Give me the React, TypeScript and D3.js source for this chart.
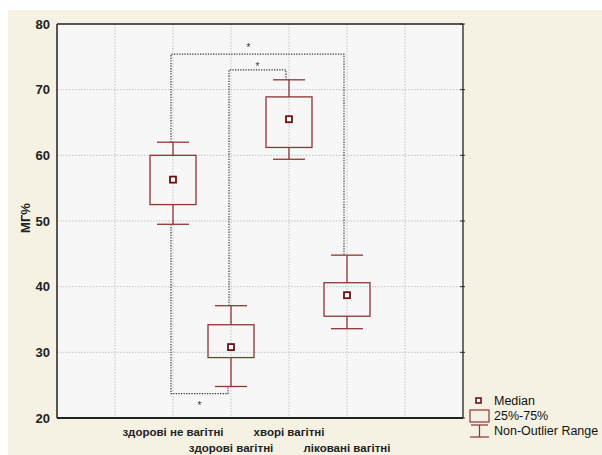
import React from 'react'
import * as d3 from 'd3'

const width = 602
const height = 455

const categories = ['здорові не вагітні', 'здорові вагітні', 'хворі вагітні', 'ліковані вагітні']
const medians = [56.3, 30.8, 65.5, 38.7]
const q1 = [52.5, 29.2, 61.2, 35.5]
const q3 = [60, 34.2, 68.9, 40.6]
const whiskerLow = [49.5, 24.8, 59.4, 33.6]
const whiskerHigh = [62, 37.1, 71.5, 44.8]
const yTicks = [20, 30, 40, 50, 60, 70, 80]

// significance brackets: which two groups, level of the bracket, top/bottom
const brackets = [
  { from: 0, to: 3, level: 75.4, side: 'top' },
  { from: 1, to: 2, level: 73, side: 'top' },
  { from: 0, to: 1, level: 23.7, side: 'bottom' },
]

const legendItems = ['Median', '25%-75%', 'Non-Outlier Range']

const plot = { left: 57, right: 463, top: 24, bottom: 418 }
const boxColor = '#8e3535'
const font = 'Liberation Sans, Arial, sans-serif'

const App = () => {
  const x = d3.scaleLinear().domain([0, 7]).range([plot.left, plot.right])
  const y = d3.scaleLinear().domain([20, 80]).range([plot.bottom, plot.top])
  const cx = (i: number) => x(i + 2)

  const boxW = 46
  const capW = 32

  return (
    <svg width={width} height={height} style={{ position: 'absolute', left: 0, top: 0 }}>
      <rect x={0} y={0} width={width} height={height} fill="#ffffff" />
      <rect x={8} y={10} width={width - 8} height={height - 10} fill="#f5f1e3" />
      <rect x={plot.left} y={plot.top} width={plot.right - plot.left} height={plot.bottom - plot.top} fill="#f7f7f7" />

      {/* grid */}
      {d3.range(1, 7).map(k =>
        <line key={'gx' + k} x1={x(k)} x2={x(k)} y1={plot.top} y2={plot.bottom}
          stroke="#c4c4c4" strokeDasharray="1.5,1.5" />
      )}
      {yTicks.slice(1, -1).map(t =>
        <line key={'gy' + t} x1={plot.left} x2={plot.right} y1={y(t)} y2={y(t)}
          stroke="#c4c4c4" strokeDasharray="1.5,1.5" />
      )}

      {/* right-side ticks */}
      {yTicks.map(t =>
        <line key={'rt' + t} x1={plot.right - 3} x2={plot.right + 2} y1={y(t)} y2={y(t)} stroke="#333" />
      )}

      {/* brackets */}
      {brackets.map((b, i) => {
        const x1 = cx(b.from) - 2
        const x2 = cx(b.to) - 3
        const yl = y(b.level)
        const end1 = b.side === 'top' ? y(whiskerHigh[b.from]) : y(whiskerLow[b.from])
        const end2 = b.side === 'top' ? y(whiskerHigh[b.to]) : y(whiskerLow[b.to])
        const path = d3.path()
        path.moveTo(x1, end1)
        path.lineTo(x1, yl)
        path.lineTo(x2, yl)
        path.lineTo(x2, end2)
        const mid = (x1 + x2) / 2
        return (
          <g key={'br' + i}>
            <path d={path.toString()} fill="none" stroke="#3a3a3a" strokeWidth={1.2} strokeDasharray="1.3,1.3" />
            <text x={b.from === 0 && b.to === 3 ? mid - 9 : mid}
              y={b.side === 'top' ? yl - (b.to - b.from > 1 ? 3 : 0) : yl + 15}
              fontSize={10} fontFamily={font} textAnchor="middle" fill="#333">*</text>
          </g>
        )
      })}

      {/* boxes */}
      {categories.map((c, i) => (
        <g key={'box' + i} stroke={boxColor} strokeWidth={1.3}>
          <line x1={cx(i)} x2={cx(i)} y1={y(whiskerHigh[i])} y2={y(q3[i])} />
          <line x1={cx(i)} x2={cx(i)} y1={y(q1[i])} y2={y(whiskerLow[i])} />
          <line x1={cx(i) - capW / 2} x2={cx(i) + capW / 2} y1={y(whiskerHigh[i])} y2={y(whiskerHigh[i])} />
          <line x1={cx(i) - capW / 2} x2={cx(i) + capW / 2} y1={y(whiskerLow[i])} y2={y(whiskerLow[i])} />
          <rect x={cx(i) - boxW / 2} y={y(q3[i])} width={boxW} height={y(q1[i]) - y(q3[i])} fill="none" />
          <rect x={cx(i) - 3} y={y(medians[i]) - 3} width={6} height={6} fill="#fff" stroke="#6e0f0f" strokeWidth={1.8} />
        </g>
      ))}

      {/* frame */}
      <line x1={plot.left} x2={plot.right} y1={plot.top} y2={plot.top} stroke="#222" strokeWidth={1.3} />
      <line x1={plot.right} x2={plot.right} y1={plot.top} y2={plot.bottom} stroke="#222" strokeWidth={1.3} />
      <line x1={plot.left} x2={plot.left} y1={plot.top} y2={plot.bottom} stroke="#222" strokeWidth={1.5} />
      <line x1={plot.left} x2={plot.right} y1={plot.bottom} y2={plot.bottom} stroke="#222" strokeWidth={1.8} />

      {/* y axis labels */}
      {yTicks.map(t =>
        <text key={'yl' + t} x={50} y={y(t)} dy="0.35em" textAnchor="end"
          fontSize={13} fontWeight="bold" fontFamily={font} fill="#222">{t}</text>
      )}
      <text transform="translate(25,218) rotate(-90)" textAnchor="middle"
        dy="0.35em" fontSize={13} fontWeight="bold" fontFamily={font} fill="#222">МГ%</text>

      {/* x labels */}
      {categories.map((c, i) =>
        <text key={'xl' + i} x={cx(i)} y={i % 2 === 0 ? 436 : 452} textAnchor="middle"
          fontSize={11.5} fontWeight="bold" fontFamily={font} fill="#222">{c}</text>
      )}

      {/* legend */}
      <g fontFamily={font} fontSize={12.5} fill="#111">
        <rect x={476} y={398} width={5} height={5} fill="#fff" stroke="#6e0f0f" strokeWidth={1.6} />
        <rect x={470} y={410} width={19} height={12} fill="none" stroke={boxColor} strokeWidth={1.2} />
        <line x1={479.5} x2={479.5} y1={425} y2={437} stroke={boxColor} strokeWidth={1.2} />
        <line x1={471} x2={488} y1={425} y2={425} stroke={boxColor} strokeWidth={1.2} />
        <line x1={470} x2={489} y1={437} y2={437} stroke={boxColor} strokeWidth={1.2} />
        {legendItems.map((t, i) =>
          <text key={'lg' + t} x={494} y={401 + i * 15} dy="0.35em">{t}</text>
        )}
      </g>
    </svg>
  )
}

export default App
